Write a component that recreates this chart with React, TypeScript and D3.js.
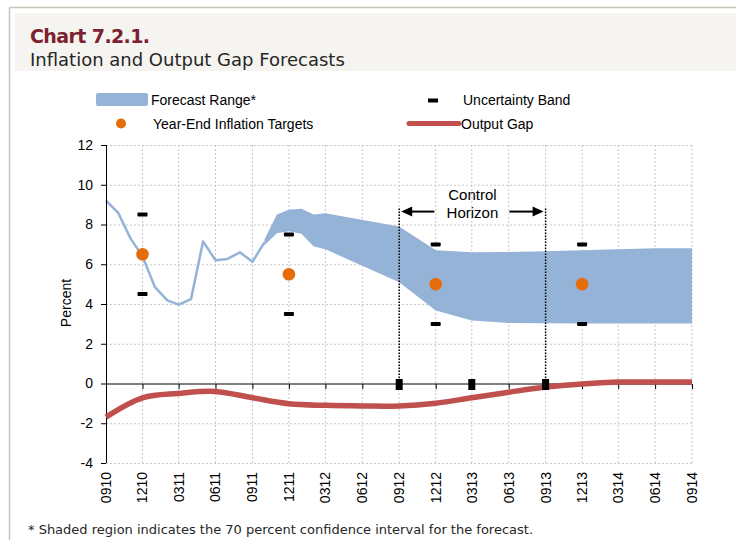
import React, { useRef, useEffect } from 'react';
import * as d3 from 'd3';

// axis tick labels (MMYY)
const tickLabels = ['0910', '1210', '0311', '0611', '0911', '1211', '0312', '0612', '0912',
  '1212', '0313', '0613', '0913', '1213', '0314', '0614', '0914'];
const yTicks = [-4, -2, 0, 2, 4, 6, 8, 10, 12];

// monthly inflation history
const inflationDates = ['2010-09', '2010-10', '2010-11', '2010-12', '2011-01', '2011-02', '2011-03',
  '2011-04', '2011-05', '2011-06', '2011-07', '2011-08', '2011-09', '2011-10'];
const inflationValues = [9.2, 8.6, 7.3, 6.4, 4.85, 4.18, 3.97, 4.25, 7.15, 6.2, 6.27, 6.6, 6.12, 7.1];

// forecast range (70% band)
const bandDates = ['2011-10', '2011-11', '2011-12', '2012-01', '2012-02', '2012-03', '2012-09',
  '2012-12', '2013-03', '2013-06', '2013-09', '2013-12', '2014-03', '2014-06', '2014-09'];
const bandLow = [6.95, 7.56, 7.66, 7.53, 6.89, 6.75, 5.1, 3.67, 3.17, 3.05, 3.03, 3.02, 3.02, 3.02, 3.02];
const bandHigh = [7.25, 8.5, 8.74, 8.79, 8.5, 8.57, 7.9, 6.7, 6.6, 6.62, 6.65, 6.7, 6.76, 6.8, 6.81];

// output gap, quarterly
const gapDates = ['2010-09', '2010-12', '2011-03', '2011-06', '2011-09', '2011-12', '2012-03', '2012-06',
  '2012-09', '2012-12', '2013-03', '2013-06', '2013-09', '2013-12', '2014-03', '2014-06', '2014-09'];
const gapValues = [-1.69, -0.72, -0.5, -0.4, -0.72, -1.02, -1.1, -1.13, -1.13, -0.99, -0.72, -0.44,
  -0.18, -0.02, 0.07, 0.08, 0.08];

// year-end targets and uncertainty band
const targetDates = ['2010-12', '2011-12', '2012-12', '2013-12'];
const targetValues = [6.5, 5.5, 5.0, 5.0];
const uncertaintyHigh = [8.5, 7.5, 7.0, 7.0];
const uncertaintyLow = [4.5, 3.5, 3.0, 3.0];

const zeroMarkerDates = ['2012-09', '2013-03', '2013-09'];
const controlHorizon = ['2012-09', '2013-09'];
const controlTop = 8.8;
const controlArrow = 8.65;

const parse = d3.timeParse('%Y-%m');
const parseTick = d3.timeParse('%m%y');
const BLUE = '#95B3D7';
const RED = '#C0504D';
const ORANGE = '#E46C0A';
const AXIS_FONT = '"Liberation Sans", Arial, sans-serif';
const TITLE_FONT = '"DejaVu Sans", sans-serif';

const App = () => {
  const svgRef = useRef(null);

  useEffect(() => {
    const svg = d3.select(svgRef.current);
    svg.selectAll('*').remove();

    const left = 106, right = 692, top = 145, bottom = 463;

    const quarters = tickLabels.map(t => parseTick(t));
    const x = d3.scaleTime()
      .domain(d3.extent(quarters))
      .range([left, right]);
    const y = d3.scaleLinear().domain([-4, 12]).range([bottom, top]);

    // frame + title band
    svg.append('rect').attr('x', 15).attr('y', 13).attr('width', 721).attr('height', 58).attr('fill', '#f6f4f0');
    svg.append('line').attr('x1', 9.5).attr('x2', 736).attr('y1', 7.5).attr('y2', 7.5)
      .attr('stroke', '#cbc3b8').attr('stroke-width', 1.5);
    svg.append('line').attr('x1', 9.5).attr('x2', 9.5).attr('y1', 7.5).attr('y2', 540)
      .attr('stroke', '#cbc3b8').attr('stroke-width', 1.5);

    svg.append('text').attr('x', 30).attr('y', 43).text('Chart 7.2.1.')
      .attr('font-family', TITLE_FONT).attr('font-weight', 'bold').attr('font-size', 19)
      .attr('letter-spacing', -0.6).attr('fill', '#7b2230');
    svg.append('text').attr('x', 30).attr('y', 66).text('Inflation and Output Gap Forecasts')
      .attr('font-family', TITLE_FONT).attr('font-size', 18).attr('fill', '#262626');

    // grid
    const grid = svg.append('g').attr('stroke', '#c8c8c8').attr('stroke-dasharray', '2,2').attr('stroke-width', 1);
    grid.selectAll('line.v').data(quarters.slice(1)).join('line')
      .attr('x1', d => x(d)).attr('x2', d => x(d)).attr('y1', top).attr('y2', bottom);
    grid.selectAll('line.h').data(yTicks.filter(t => t !== 0)).join('line')
      .attr('x1', left).attr('x2', right).attr('y1', d => y(d) + 0.5).attr('y2', d => y(d) + 0.5);

    // forecast band
    const bandData = bandDates.map((d, i) => ({ date: parse(d), lo: bandLow[i], hi: bandHigh[i] }));
    svg.append('path').datum(bandData)
      .attr('fill', BLUE)
      .attr('d', d3.area().x(d => x(d.date)).y0(d => y(d.lo)).y1(d => y(d.hi)));

    // inflation line
    const inflData = inflationDates.map((d, i) => ({ date: parse(d), v: inflationValues[i] }));
    svg.append('path').datum(inflData)
      .attr('fill', 'none').attr('stroke', BLUE).attr('stroke-width', 2.5)
      .attr('stroke-linejoin', 'round')
      .attr('d', d3.line().x(d => x(d.date)).y(d => y(d.v)));

    // y axis
    const yAxis = svg.append('g').attr('transform', `translate(${left},0)`)
      .call(d3.axisLeft(y).tickValues(yTicks).tickSize(5).tickPadding(8).tickFormat(d => String(d)));
    yAxis.select('.domain').attr('stroke', '#000').attr('d', `M0.5,${top}V${bottom}`);
    yAxis.selectAll('text').attr('font-family', AXIS_FONT).attr('font-size', 14).attr('fill', '#000');

    // zero line with ticks
    const xAxis = svg.append('g').attr('transform', `translate(0,${y(0) + 0.5})`)
      .call(d3.axisBottom(x).tickValues(quarters).tickSize(5).tickFormat(() => ''));
    xAxis.select('.domain').attr('stroke', '#000').attr('d', `M${left},0H${right}`);

    // x labels at bottom
    svg.append('g').selectAll('text').data(quarters).join('text')
      .attr('transform', d => `translate(${x(d) + 5},${bottom + 9}) rotate(-90)`)
      .attr('text-anchor', 'end')
      .attr('font-family', AXIS_FONT).attr('font-size', 14)
      .text((d, i) => tickLabels[i]);

    // y title
    svg.append('text').attr('transform', `translate(71,303) rotate(-90)`)
      .attr('text-anchor', 'middle').attr('font-family', AXIS_FONT).attr('font-size', 14)
      .text('Percent');

    // output gap
    const gapData = gapDates.map((d, i) => ({ date: parse(d), v: gapValues[i] }));
    svg.append('path').datum(gapData)
      .attr('fill', 'none').attr('stroke', RED).attr('stroke-width', 5.5)
      .attr('stroke-linejoin', 'round')
      .attr('d', d3.line().curve(d3.curveCatmullRom.alpha(0.5)).x(d => x(d.date)).y(d => y(d.v)));

    // control horizon
    const ch = svg.append('g');
    ch.selectAll('line').data(controlHorizon).join('line')
      .attr('x1', d => x(parse(d))).attr('x2', d => x(parse(d)))
      .attr('y1', y(controlTop)).attr('y2', y(0))
      .attr('stroke', '#000').attr('stroke-width', 1.5).attr('stroke-dasharray', '1.5,1.5');
    const x0 = x(parse(controlHorizon[0])), x1 = x(parse(controlHorizon[1]));
    const ay = y(controlArrow);
    const mid = (x0 + x1) / 2;
    ch.append('line').attr('x1', x0 + 10).attr('x2', mid - 38).attr('y1', ay).attr('y2', ay)
      .attr('stroke', '#000').attr('stroke-width', 2);
    ch.append('path').attr('d', `M${x0 + 2},${ay}l11,-5v10z`).attr('fill', '#000');
    ch.append('line').attr('x1', mid + 37).attr('x2', x1 - 10).attr('y1', ay).attr('y2', ay)
      .attr('stroke', '#000').attr('stroke-width', 2);
    ch.append('path').attr('d', `M${x1 - 2},${ay}l-11,-5v10z`).attr('fill', '#000');
    ch.append('text').attr('x', mid).attr('y', ay - 12).attr('text-anchor', 'middle')
      .attr('font-family', AXIS_FONT).attr('font-size', 15).text('Control');
    ch.append('text').attr('x', mid).attr('y', ay + 6).attr('text-anchor', 'middle')
      .attr('font-family', AXIS_FONT).attr('font-size', 15).text('Horizon');

    // zero markers
    svg.append('g').selectAll('rect').data(zeroMarkerDates).join('rect')
      .attr('x', d => x(parse(d)) - 3.5).attr('y', y(0) - 4.5).attr('width', 7).attr('height', 11)
      .attr('fill', '#000');

    // uncertainty dashes
    const unc = targetDates.flatMap((d, i) => [
      { date: parse(d), v: uncertaintyHigh[i] },
      { date: parse(d), v: uncertaintyLow[i] },
    ]);
    svg.append('g').selectAll('rect').data(unc).join('rect')
      .attr('x', d => x(d.date) - 5).attr('y', d => y(d.v) - 2).attr('width', 10).attr('height', 4)
      .attr('rx', 0.8).attr('fill', '#000');

    // targets
    svg.append('g').selectAll('circle').data(targetDates).join('circle')
      .attr('cx', d => x(parse(d))).attr('cy', (d, i) => y(targetValues[i])).attr('r', 6.3)
      .attr('fill', ORANGE);

    // legend
    const lg = svg.append('g').attr('font-family', AXIS_FONT).attr('font-size', 14);
    lg.append('rect').attr('x', 96).attr('y', 93).attr('width', 52).attr('height', 13).attr('rx', 2).attr('fill', BLUE);
    lg.append('text').attr('x', 151).attr('y', 104.5).text('Forecast Range*');
    lg.append('circle').attr('cx', 121).attr('cy', 123.5).attr('r', 5).attr('fill', ORANGE);
    lg.append('text').attr('x', 153).attr('y', 129).text('Year-End Inflation Targets');
    lg.append('rect').attr('x', 428).attr('y', 98.5).attr('width', 10).attr('height', 4).attr('fill', '#000');
    lg.append('text').attr('x', 463).attr('y', 104.5).text('Uncertainty Band');
    lg.append('line').attr('x1', 409).attr('x2', 459).attr('y1', 123.5).attr('y2', 123.5)
      .attr('stroke', RED).attr('stroke-width', 5).attr('stroke-linecap', 'round');
    lg.append('text').attr('x', 461).attr('y', 129).text('Output Gap');

    // footnote
    svg.append('text').attr('x', 28).attr('y', 534)
      .attr('font-family', TITLE_FONT).attr('font-size', 13).attr('fill', '#262626')
      .text('* Shaded region indicates the 70 percent confidence interval for the forecast.');
  }, []);

  return (
    <svg ref={svgRef} width="736" height="540"
      style={{ position: 'absolute', left: 0, top: 0, background: '#fff' }}></svg>
  );
};

export default App;
